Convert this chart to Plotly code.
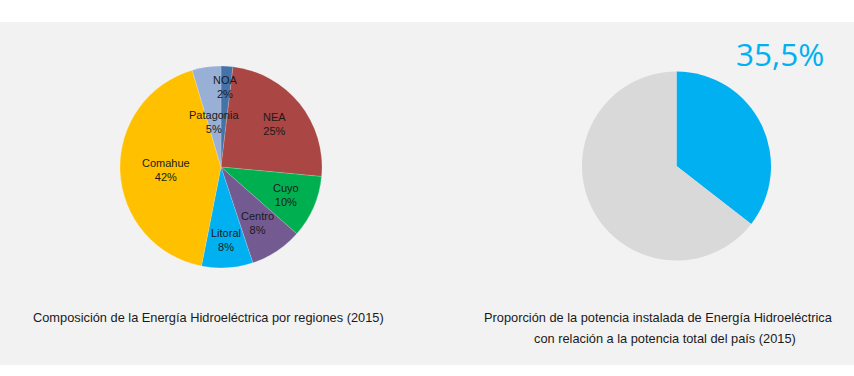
import math
import plotly.graph_objects as go

# Data
regions = ["NOA", "NEA", "Cuyo", "Centro", "Litoral", "Comahue", "Patagonia"]
region_share = [1.9, 24.6, 10.0, 8.4, 8.2, 42.3, 4.6]
region_colors = ["#4473a9", "#aa4643", "#00b050", "#735a91", "#00b0f0", "#ffc000", "#99b0d6"]

share_labels = ["Hidroeléctrica", "Resto"]
share_values = [35.5, 64.5]
share_colors = ["#00b0f0", "#d9d9d9"]
share_text = "35,5%"

title_left = "Composición de la Energía Hidroeléctrica por regiones (2015)"
title_right_1 = "Proporción de la potencia instalada de Energía Hidroeléctrica"
title_right_2 = "con relación a la potencia total del país (2015)"

# Styling / layout
W, H = 854, 376
PIE1_CX, PIE1_CY, PIE1_R = 221, 167, 101
PIE2_CX, PIE2_CY, PIE2_R = 676.5, 166, 94.5
# radial position of each data label, as a fraction of the radius (Excel best-fit look)
label_radius = {"NOA": 0.79, "NEA": 0.68, "Cuyo": 0.70, "Centro": 0.66,
                "Litoral": 0.72, "Comahue": 0.55, "Patagonia": 0.45}
LABEL_FONT = dict(family="Liberation Sans, Arial", size=11, color="#1a1a1a")
CAPTION_FONT = dict(family="Liberation Sans, Arial", size=12.8, color="#1a1a1a")


def dom(cx, cy, r):
    return dict(x=[(cx - r) / W, (cx + r) / W], y=[1 - (cy + r) / H, 1 - (cy - r) / H])


fig = go.Figure()

fig.add_trace(go.Pie(
    labels=regions, values=region_share, sort=False, direction="clockwise", rotation=0,
    marker=dict(colors=region_colors, line=dict(color="rgba(255,255,255,0.35)", width=0.5)),
    textinfo="none",
    domain=dom(PIE1_CX, PIE1_CY, PIE1_R),
    hoverinfo="label+percent", showlegend=False,
))

fig.add_trace(go.Pie(
    labels=share_labels, values=share_values, sort=False, direction="clockwise", rotation=0,
    marker=dict(colors=share_colors, line=dict(width=0)),
    textinfo="none",
    domain=dom(PIE2_CX, PIE2_CY, PIE2_R),
    hoverinfo="label+percent", showlegend=False,
))

annotations = []
total = sum(region_share)
cum = 0.0
for name, v in zip(regions, region_share):
    theta = 2 * math.pi * (cum + v / 2) / total
    cum += v
    f = label_radius[name] * PIE1_R
    px = PIE1_CX + f * math.sin(theta)
    py = PIE1_CY - f * math.cos(theta)
    annotations.append(dict(
        text=f"{name}<br>{round(100 * v / total)}%", xref="paper", yref="paper",
        x=px / W, y=1 - py / H, xanchor="center", yanchor="middle", showarrow=False,
        align="center", font=LABEL_FONT))

annotations += [
    dict(text=share_text, xref="paper", yref="paper", x=780 / W, y=1 - 53 / H,
         xanchor="center", yanchor="middle", showarrow=False,
         font=dict(family="Open Sans, Noto Sans", size=31.5, color="#00b0f0")),
    dict(text=title_left, xref="paper", yref="paper", x=208.5 / W, y=1 - 317 / H,
         xanchor="center", yanchor="middle", showarrow=False, font=CAPTION_FONT),
    dict(text=title_right_1, xref="paper", yref="paper", x=658.5 / W, y=1 - 317 / H,
         xanchor="center", yanchor="middle", showarrow=False, font=CAPTION_FONT),
    dict(text=title_right_2, xref="paper", yref="paper", x=665 / W, y=1 - 338 / H,
         xanchor="center", yanchor="middle", showarrow=False, font=CAPTION_FONT),
]

fig.update_layout(
    width=W, height=H, margin=dict(l=0, r=0, t=0, b=0),
    paper_bgcolor="white", plot_bgcolor="white",
    shapes=[dict(type="rect", xref="paper", yref="paper", x0=0, x1=1,
                 y0=1 - 365 / H, y1=1 - 22 / H, fillcolor="#f2f2f2",
                 line=dict(width=0), layer="below")],
    annotations=annotations,
)

fig.write_html("out.html", config={"displayModeBar": False},
               post_script="document.body.style.margin='0';")
